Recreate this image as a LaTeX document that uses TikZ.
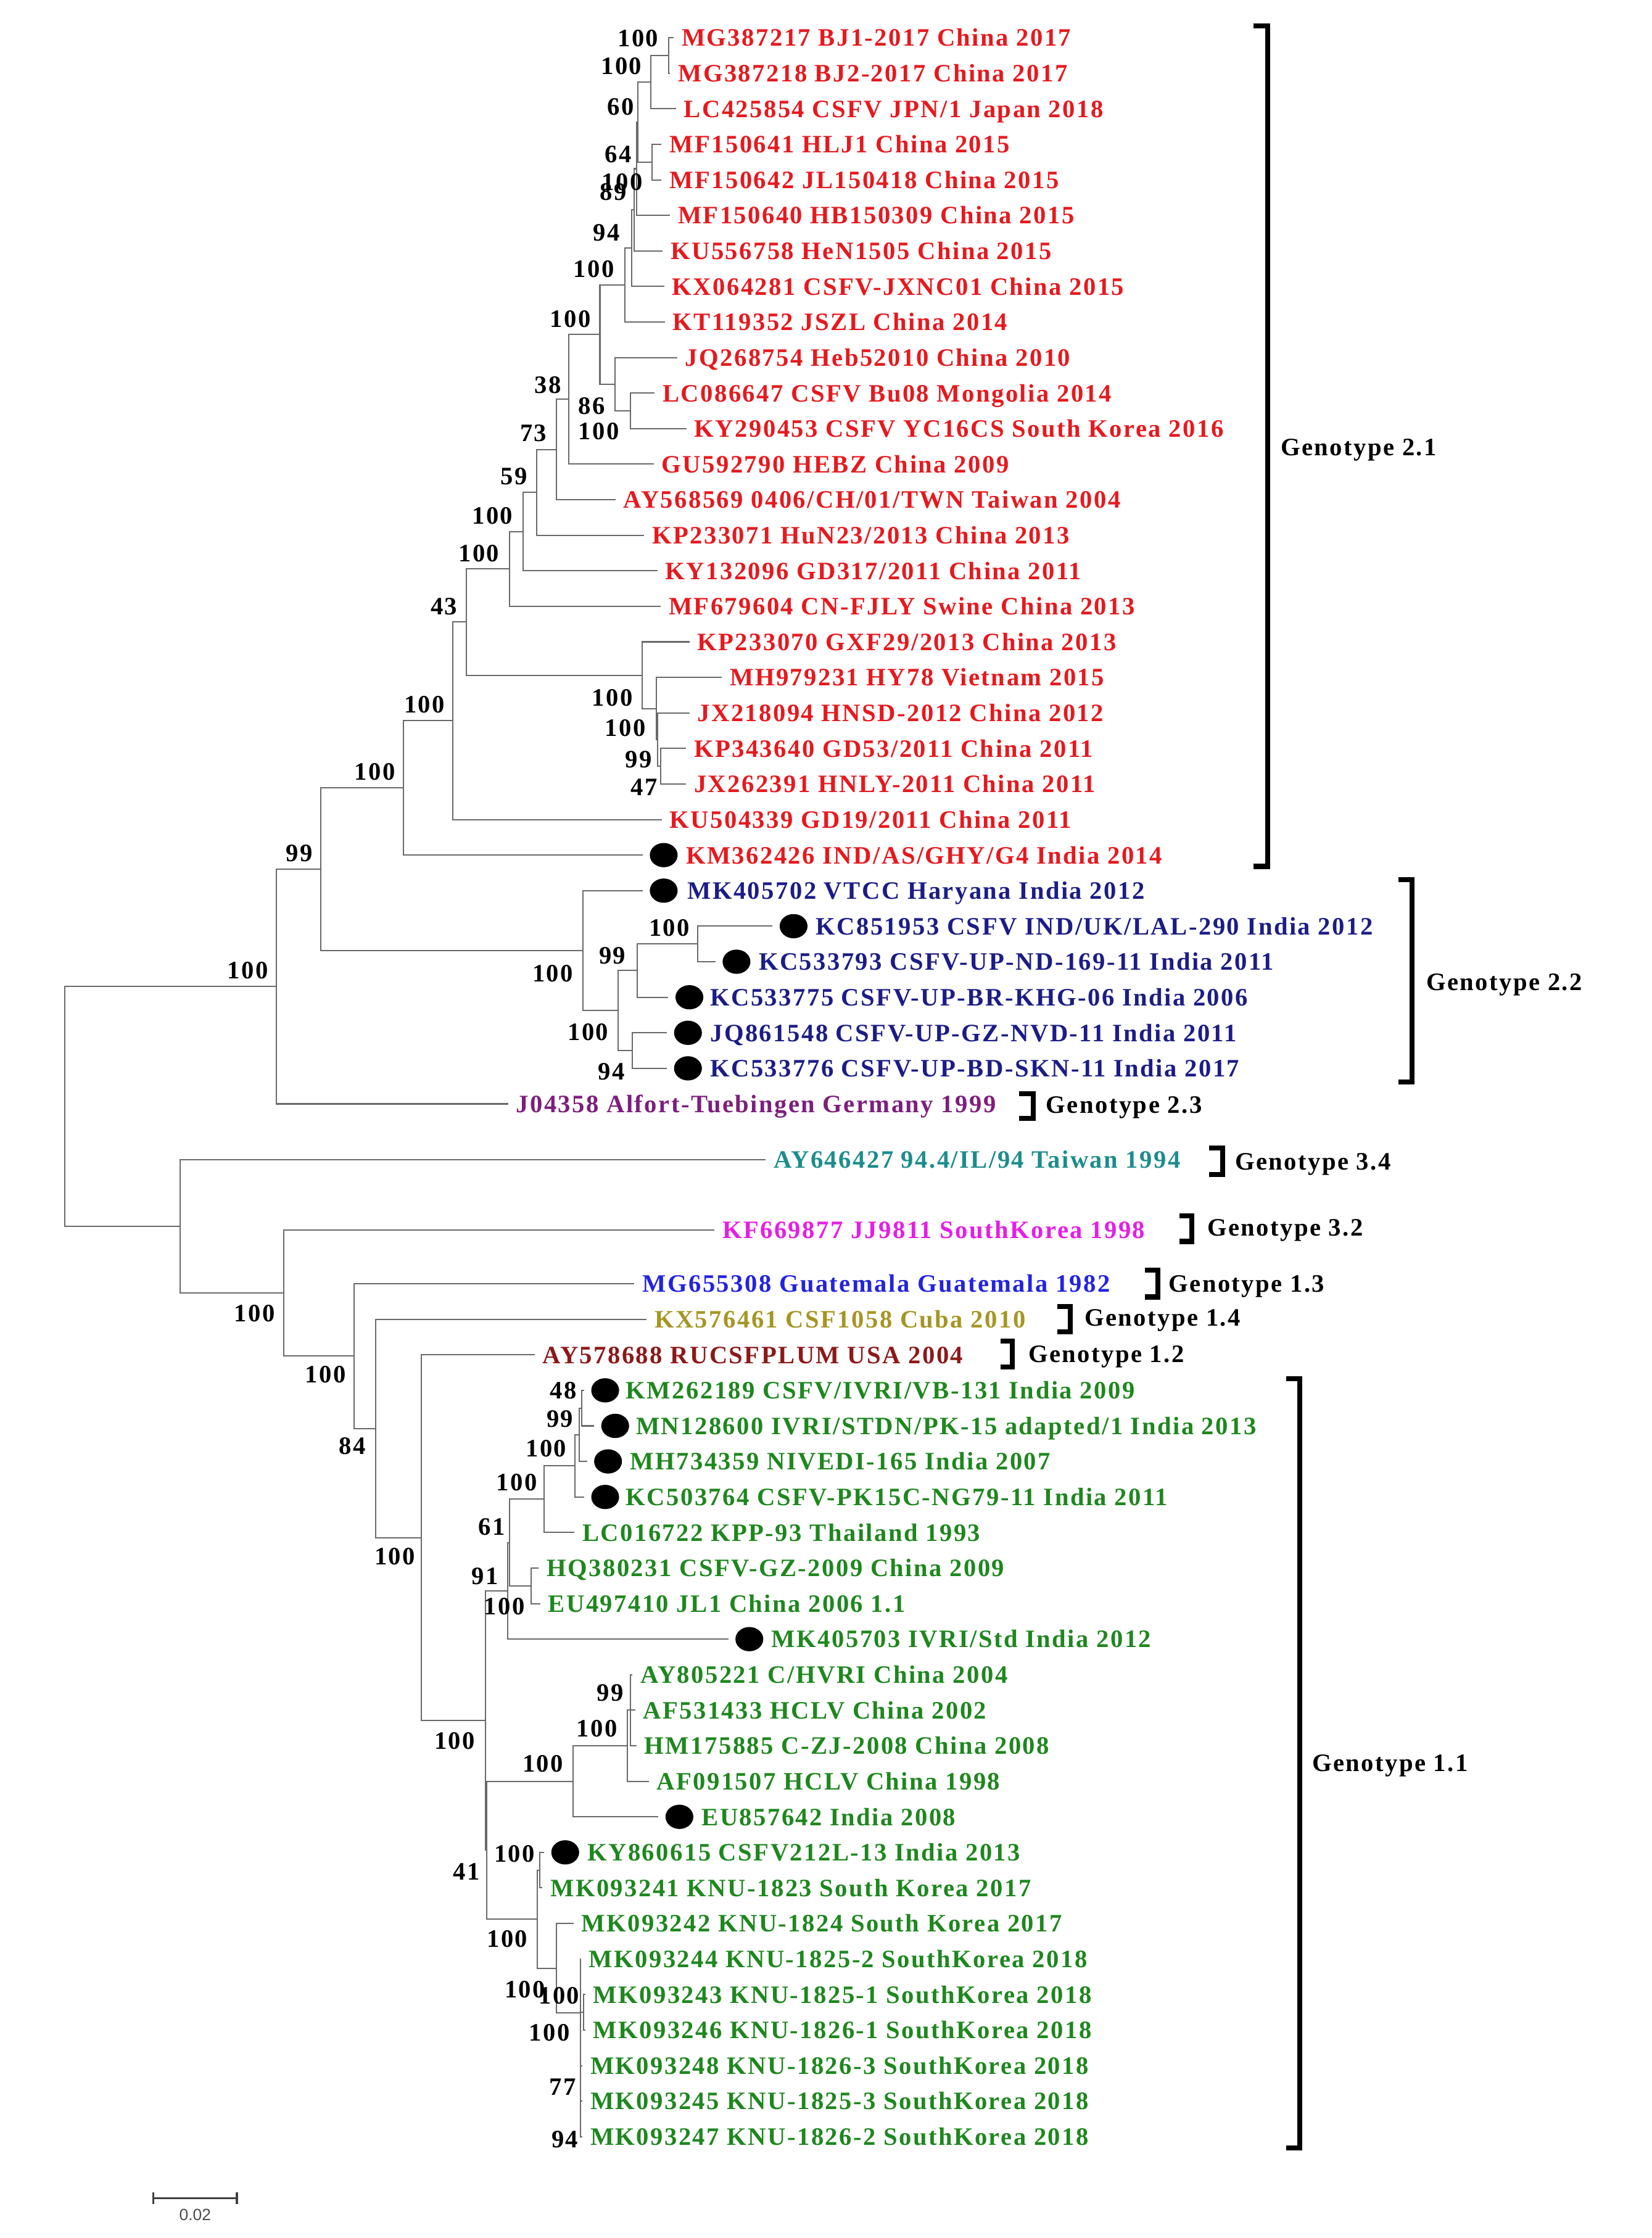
\documentclass[tikz,border=0pt]{standalone}
\usepackage{fontspec}
\setmainfont{Liberation Serif}
\newfontfamily\lblfont{Liberation Serif}[LetterSpace=6]
\newfontfamily\barfont{Liberation Sans}
\usetikzlibrary{shapes.geometric}

\definecolor{treegray}{RGB}{105,105,105}
\definecolor{ctwoone}{RGB}{230,25,30}
\definecolor{ctwotwo}{RGB}{28,28,135}
\definecolor{ctwothree}{RGB}{125,30,125}
\definecolor{cthreefour}{RGB}{30,140,140}
\definecolor{cthreetwo}{RGB}{230,30,230}
\definecolor{conethree}{RGB}{35,35,225}
\definecolor{conefour}{RGB}{165,150,35}
\definecolor{conetwo}{RGB}{140,25,25}
\definecolor{coneone}{RGB}{30,135,30}

\begin{document}
\begin{tikzpicture}[x=0.02cm, y=-0.02cm,
	br/.style={draw=treegray, line width=0.5pt, to path={|- (\tikztotarget)}},
	leaf/.style={anchor=west, inner xsep=3pt, inner ysep=0pt, text height=6.8pt, text depth=0pt, font=\lblfont\bfseries\fontsize{10}{12}\selectfont},
	bs/.style={inner sep=0pt, font=\lblfont\bfseries\fontsize{10}{12}\selectfont},
	gt/.style={anchor=west, inner sep=0pt, text height=6.8pt, text depth=0pt, font=\lblfont\bfseries\fontsize{10}{12}\selectfont},
	dot/.style={ellipse, fill=black, inner sep=0pt, minimum width=0.39cm, minimum height=0.34cm, outer sep=0.1cm},
	brk/.style={line width=2pt, black}]
	\useasboundingbox (0,0) rectangle (1157,1568);

	% genotype 2.1
	\node[leaf, text=ctwoone] (1)  at (472,26.4)   {MG387217 BJ1-2017 China 2017};
	\node[leaf, text=ctwoone] (2)  at (469.5,51.3) {MG387218 BJ2-2017 China 2017};
	\node[leaf, text=ctwoone] (3)  at (473.6,76.2) {LC425854 CSFV JPN/1 Japan 2018};
	\node[leaf, text=ctwoone] (4)  at (463.5,101.1) {MF150641 HLJ1 China 2015};
	\node[leaf, text=ctwoone] (5)  at (463.5,126)  {MF150642 JL150418 China 2015};
	\node[leaf, text=ctwoone] (6)  at (469.4,150.9) {MF150640 HB150309 China 2015};
	\node[leaf, text=ctwoone] (7)  at (464.3,175.8) {KU556758 HeN1505 China 2015};
	\node[leaf, text=ctwoone] (8)  at (465.4,200.7) {KX064281 CSFV-JXNC01 China 2015};
	\node[leaf, text=ctwoone] (9)  at (465.8,225.6) {KT119352 JSZL China 2014};
	\node[leaf, text=ctwoone] (10) at (474.5,250.5) {JQ268754 Heb52010 China 2010};
	\node[leaf, text=ctwoone] (11) at (458.7,275.4) {LC086647 CSFV Bu08 Mongolia 2014};
	\node[leaf, text=ctwoone] (12) at (481,300.3)   {KY290453 CSFV YC16CS South Korea 2016};
	\node[leaf, text=ctwoone] (13) at (458,325.2)   {GU592790 HEBZ China 2009};
	\node[leaf, text=ctwoone] (14) at (431.3,350.1) {AY568569 0406/CH/01/TWN Taiwan 2004};
	\node[leaf, text=ctwoone] (15) at (451.3,375)   {KP233071 HuN23/2013 China 2013};
	\node[leaf, text=ctwoone] (16) at (460.6,399.9) {KY132096 GD317/2011 China 2011};
	\node[leaf, text=ctwoone] (17) at (462.9,424.8) {MF679604 CN-FJLY Swine China 2013};
	\node[leaf, text=ctwoone] (18) at (483,449.7)   {KP233070 GXF29/2013 China 2013};
	\node[leaf, text=ctwoone] (19) at (505.8,474.6) {MH979231 HY78 Vietnam 2015};
	\node[leaf, text=ctwoone] (20) at (483,499.5)   {JX218094 HNSD-2012 China 2012};
	\node[leaf, text=ctwoone] (21) at (480.6,524.4) {KP343640 GD53/2011 China 2011};
	\node[leaf, text=ctwoone] (22) at (480.6,549.3) {JX262391 HNLY-2011 China 2011};
	\node[leaf, text=ctwoone] (23) at (463.6,574.2) {KU504339 GD19/2011 China 2011};
	\node[dot] (d24) at (465,599.1) {};
	\node[leaf, text=ctwoone] (24) at (475,599.1) {KM362426 IND/AS/GHY/G4 India 2014};

	% genotype 2.2
	\node[dot] (d25) at (465,624) {};
	\node[leaf, text=ctwotwo] (25) at (476,624) {MK405702 VTCC Haryana India 2012};
	\node[dot] (d26) at (556,648.9) {};
	\node[leaf, text=ctwotwo] (26) at (566,648.9) {KC851953 CSFV IND/UK/LAL-290 India 2012};
	\node[dot] (d27) at (516,673.8) {};
	\node[leaf, text=ctwotwo] (27) at (526,673.8) {KC533793 CSFV-UP-ND-169-11 India 2011};
	\node[dot] (d28) at (483,698.7) {};
	\node[leaf, text=ctwotwo] (28) at (492,698.7) {KC533775 CSFV-UP-BR-KHG-06 India 2006};
	\node[dot] (d29) at (482,723.6) {};
	\node[leaf, text=ctwotwo] (29) at (492,723.6) {JQ861548 CSFV-UP-GZ-NVD-11 India 2011};
	\node[dot] (d30) at (482,748.5) {};
	\node[leaf, text=ctwotwo] (30) at (492,748.5) {KC533776 CSFV-UP-BD-SKN-11 India 2017};

	% single genotypes
	\node[leaf, text=ctwothree]  (31) at (356,773.4)   {J04358 Alfort-Tuebingen Germany 1999};
	\node[leaf, text=cthreefour] (32) at (536.5,812.5) {AY646427 94.4/IL/94 Taiwan 1994};
	\node[leaf, text=cthreetwo]  (33) at (500.5,861.6) {KF669877 JJ9811 SouthKorea 1998};
	\node[leaf, text=conethree]  (34) at (444.5,899.4) {MG655308 Guatemala Guatemala 1982};
	\node[leaf, text=conefour]   (35) at (453,924.3)   {KX576461 CSF1058 Cuba 2010};
	\node[leaf, text=conetwo]    (36) at (374.7,949.2) {AY578688 RUCSFPLUM USA 2004};

	% genotype 1.1
	\node[dot] (d37) at (424,974.1) {};
	\node[leaf, text=coneone] (37) at (433,974.1) {KM262189 CSFV/IVRI/VB-131 India 2009};
	\node[dot] (d38) at (431,999) {};
	\node[leaf, text=coneone] (38) at (440,999) {MN128600 IVRI/STDN/PK-15 adapted/1 India 2013};
	\node[dot] (d39) at (426,1023.9) {};
	\node[leaf, text=coneone] (39) at (436,1023.9) {MH734359 NIVEDI-165 India 2007};
	\node[dot] (d40) at (424,1048.8) {};
	\node[leaf, text=coneone] (40) at (433,1048.8) {KC503764 CSFV-PK15C-NG79-11 India 2011};
	\node[leaf, text=coneone] (41) at (402.5,1073.7) {LC016722 KPP-93 Thailand 1993};
	\node[leaf, text=coneone] (42) at (377.5,1098.6) {HQ380231 CSFV-GZ-2009 China 2009};
	\node[leaf, text=coneone] (43) at (378.5,1123.5) {EU497410 JL1 China 2006 1.1};
	\node[dot] (d44) at (525,1148.4) {};
	\node[leaf, text=coneone] (44) at (535,1148.4) {MK405703 IVRI/Std India 2012};
	\node[leaf, text=coneone] (45) at (443,1173.3)   {AY805221 C/HVRI China 2004};
	\node[leaf, text=coneone] (46) at (445,1198.2)   {AF531433 HCLV China 2002};
	\node[leaf, text=coneone] (47) at (446,1223.1)   {HM175885 C-ZJ-2008 China 2008};
	\node[leaf, text=coneone] (48) at (454.5,1248)   {AF091507 HCLV China 1998};
	\node[dot] (d49) at (476,1272.9) {};
	\node[leaf, text=coneone] (49) at (486,1272.9) {EU857642 India 2008};
	\node[dot] (d50) at (396,1297.8) {};
	\node[leaf, text=coneone] (50) at (406,1297.8) {KY860615 CSFV212L-13 India 2013};
	\node[leaf, text=coneone] (51) at (380,1322.7)   {MK093241 KNU-1823 South Korea 2017};
	\node[leaf, text=coneone] (52) at (401.8,1347.6) {MK093242 KNU-1824 South Korea 2017};
	\node[leaf, text=coneone] (53) at (407,1372.5)   {MK093244 KNU-1825-2 SouthKorea 2018};
	\node[leaf, text=coneone] (54) at (410,1397.4)   {MK093243 KNU-1825-1 SouthKorea 2018};
	\node[leaf, text=coneone] (55) at (410,1422.3)   {MK093246 KNU-1826-1 SouthKorea 2018};
	\node[leaf, text=coneone] (56) at (408,1447.2)   {MK093248 KNU-1826-3 SouthKorea 2018};
	\node[leaf, text=coneone] (57) at (408,1472.1)   {MK093245 KNU-1825-3 SouthKorea 2018};
	\node[leaf, text=coneone] (58) at (408,1497)     {MK093247 KNU-1826-2 SouthKorea 2018};

	% internal nodes
	\coordinate (nroot) at (45.2,775.2);
	\coordinate (n2)   at (193.7,691.2);
	\coordinate (nA)   at (224.9,609);
	\coordinate (nB)   at (282.5,552);
	\coordinate (nC)   at (317.4,505);
	\coordinate (nD)   at (326.8,435.8);
	\coordinate (nE)   at (356.9,398.6);
	\coordinate (nJ)   at (366.5,372.45);
	\coordinate (nK)   at (375.9,345);
	\coordinate (nL)   at (390,314.95);
	\coordinate (nM)   at (398.6,279.8);
	\coordinate (nN)   at (420.3,234.45);
	\coordinate (nNA)  at (437.8,199.7);
	\coordinate (nNB)  at (442.7,173.85);
	\coordinate (nNC)  at (444.4,147);
	\coordinate (nND2) at (446,118.2);
	\coordinate (nND1) at (446.9,85.5);
	\coordinate (nNG)  at (455.8,57.5);
	\coordinate (nR)   at (468.6,38.85);
	\coordinate (nNF)  at (456.9,113.55);
	\coordinate (nP)   at (431,269.2);
	\coordinate (nQ)   at (441.9,287.85);
	\coordinate (nF)   at (450.1,473.05);
	\coordinate (nG)   at (459.7,496.4);
	\coordinate (nH)   at (460.9,518.2);
	\coordinate (nI)   at (462.9,536.85);
	\coordinate (nGA)  at (408.4,666);
	\coordinate (nGB)  at (433.2,708);
	\coordinate (nGC)  at (446.4,680);
	\coordinate (nGE)  at (489,661.35);
	\coordinate (nGD)  at (443.1,736.05);
	\coordinate (nS)   at (126.2,859.2);
	\coordinate (nT)   at (198.6,905.85);
	\coordinate (nU)   at (248,950.1);
	\coordinate (nV)   at (263,1000.8);
	\coordinate (nW)   at (295,1077.3);
	\coordinate (nX)   at (340.2,1205.4);
	\coordinate (nZ)   at (355.7,1114.55);
	\coordinate (nAA)  at (357,1080.7);
	\coordinate (nAB)  at (381.3,1050.35);
	\coordinate (nAD)  at (402.9,1027);
	\coordinate (nAE)  at (406,1005.2);
	\coordinate (nAF)  at (407.5,986.55);
	\coordinate (nAC)  at (372.1,1111.05);
	\coordinate (nX2)  at (340.8,1296.3);
	\coordinate (nHC)  at (401.4,1248);
	\coordinate (nHD)  at (439.6,1223.1);
	\coordinate (nHE)  at (441.5,1198.2);
	\coordinate (nBB)  at (376.6,1344.6);
	\coordinate (nBC)  at (378,1310.25);
	\coordinate (nBD)  at (390,1379);
	\coordinate (nBE)  at (406.8,1410.3);
	\coordinate (nBF)  at (409,1409.85);

	% branches
	\path (nroot) edge[br] (n2) edge[br] (nS);
	\path (n2)   edge[br] (nA) edge[br] (31.west);
	\path (nA)   edge[br] (nB) edge[br] (nGA);
	\path (nB)   edge[br] (nC) edge[br] (d24.west);
	\path (nC)   edge[br] (nD) edge[br] (23.west);
	\path (nD)   edge[br] (nE) edge[br] (nF);
	\path (nE)   edge[br] (nJ) edge[br] (17.west);
	\path (nJ)   edge[br] (nK) edge[br] (16.west);
	\path (nK)   edge[br] (nL) edge[br] (15.west);
	\path (nL)   edge[br] (nM) edge[br] (14.west);
	\path (nM)   edge[br] (nN) edge[br] (13.west);
	\path (nN)   edge[br] (nNA) edge[br] (nP);
	\path (nNA)  edge[br] (nNB) edge[br] (9.west);
	\path (nNB)  edge[br] (nNC) edge[br] (8.west);
	\path (nNC)  edge[br] (nND2) edge[br] (7.west);
	\path (nND2) edge[br] (nND1) edge[br] (6.west);
	\path (nND1) edge[br] (nNG) edge[br] (nNF);
	\path (nNG)  edge[br] (nR) edge[br] (3.west);
	\path (nR)   edge[br] (1.west) edge[br] (2.west);
	\path (nNF)  edge[br] (4.west) edge[br] (5.west);
	\path (nP)   edge[br] (10.west) edge[br] (nQ);
	\path (nQ)   edge[br] (11.west) edge[br] (12.west);
	\path (nF)   edge[br] (18.west) edge[br] (nG);
	\path (nG)   edge[br] (19.west) edge[br] (nH);
	\path (nH)   edge[br] (20.west) edge[br] (nI);
	\path (nI)   edge[br] (21.west) edge[br] (22.west);
	\path (nGA)  edge[br] (d25.west) edge[br] (nGB);
	\path (nGB)  edge[br] (nGC) edge[br] (nGD);
	\path (nGC)  edge[br] (nGE) edge[br] (d28.west);
	\path (nGE)  edge[br] (d26.west) edge[br] (d27.west);
	\path (nGD)  edge[br] (d29.west) edge[br] (d30.west);
	\path (nS)   edge[br] (32.west) edge[br] (nT);
	\path (nT)   edge[br] (33.west) edge[br] (nU);
	\path (nU)   edge[br] (34.west) edge[br] (nV);
	\path (nV)   edge[br] (35.west) edge[br] (nW);
	\path (nW)   edge[br] (36.west) edge[br] (nX);
	\path (nX)   edge[br] (nZ) edge[br] (nX2);
	\path (nZ)   edge[br] (nAA) edge[br] (d44.west);
	\path (nAA)  edge[br] (nAB) edge[br] (nAC);
	\path (nAB)  edge[br] (nAD) edge[br] (41.west);
	\path (nAD)  edge[br] (nAE) edge[br] (d40.west);
	\path (nAE)  edge[br] (nAF) edge[br] (d39.west);
	\path (nAF)  edge[br] (d37.west) edge[br] (d38.west);
	\path (nAC)  edge[br] (42.west) edge[br] (43.west);
	\path (nX2)  edge[br] (nHC) edge[br] (nBB);
	\path (nHC)  edge[br] (nHD) edge[br] (d49.west);
	\path (nHD)  edge[br] (nHE) edge[br] (48.west);
	\path (nHE)  edge[br] (45.west) edge[br] (46.west) edge[br] (47.west);
	\path (nBB)  edge[br] (nBC) edge[br] (nBD);
	\path (nBC)  edge[br] (d50.west) edge[br] (51.west);
	\path (nBD)  edge[br] (52.west) edge[br] (nBE);
	\path (nBE)  edge[br] (53.west) edge[br] (nBF) edge[br] (56.west) edge[br] (57.west) edge[br] (58.west);
	\path (nBF)  edge[br] (54.west) edge[br] (55.west);

	% bootstrap values
	\node[bs] (b1)  at (447,26.9)    {100};
	\node[bs] (b2)  at (435.4,46.3)  {100};
	\node[bs] (b3)  at (435,75)      {60};
	\node[bs] (b4)  at (433,108)     {64};
	\node[bs] (b5)  at (436,127.4)   {100};
	\node[bs] (b6)  at (429.6,134.5) {89};
	\node[bs] (b7)  at (425,163)     {94};
	\node[bs] (b8)  at (416,188.5)   {100};
	\node[bs] (b9)  at (399.6,223.7) {100};
	\node[bs] (b10) at (383.8,269.7) {38};
	\node[bs] (b11) at (414.4,284.4) {86};
	\node[bs] (b12) at (419.5,302.1) {100};
	\node[bs] (b13) at (373.7,303.7) {73};
	\node[bs] (b14) at (360,333.7)   {59};
	\node[bs] (b15) at (345,361.5)   {100};
	\node[bs] (b16) at (335.5,387.8) {100};
	\node[bs] (b17) at (311,424.8)   {43};
	\node[bs] (b18) at (429,489)     {100};
	\node[bs] (b19) at (438.2,510.2) {100};
	\node[bs] (b20) at (447.5,532.3) {99};
	\node[bs] (b21) at (451.3,551.6) {47};
	\node[bs] (b22) at (297.4,493.8) {100};
	\node[bs] (b23) at (262.7,540.7) {100};
	\node[bs] (b24) at (209.6,598)   {99};
	\node[bs] (b25) at (173.5,680)   {100};
	\node[bs] (b26) at (469,650.2)   {100};
	\node[bs] (b27) at (429,669.7)   {99};
	\node[bs] (b28) at (387.3,681.9) {100};
	\node[bs] (b29) at (412,723)     {100};
	\node[bs] (b30) at (428.3,751)   {94};
	\node[bs] (b31) at (178.3,920)   {100};
	\node[bs] (b32) at (228,963)     {100};
	\node[bs] (b33) at (247,1013)    {84};
	\node[bs] (b34) at (276.6,1090.6) {100};
	\node[bs] (b35) at (318.5,1219.7) {100};
	\node[bs] (b36) at (326.7,1311.4) {41};
	\node[bs] (b37) at (394.7,974.1) {48};
	\node[bs] (b38) at (392.3,994)   {99};
	\node[bs] (b39) at (382.6,1015)  {100};
	\node[bs] (b40) at (362,1038.6)  {100};
	\node[bs] (b41) at (344.5,1069.6) {61};
	\node[bs] (b42) at (339.8,1104.3) {91};
	\node[bs] (b43) at (353.3,1125.4) {100};
	\node[bs] (b44) at (427.5,1186.1) {99};
	\node[bs] (b45) at (418.3,1211)  {100};
	\node[bs] (b46) at (380.3,1235.7) {100};
	\node[bs] (b47) at (360.5,1299)  {100};
	\node[bs] (b48) at (355.4,1358.6) {100};
	\node[bs] (b49) at (367.8,1394)  {100};
	\node[bs] (b50) at (391.7,1398)  {100};
	\node[bs] (b51) at (384.9,1424.2) {100};
	\node[bs] (b52) at (394.2,1462)  {77};
	\node[bs] (b53) at (395.7,1499)  {94};

	% genotype brackets
	\draw[brk] (878,18) -- (888.3,18) -- (888.3,607) -- (878,607);
	\node[gt] (g21) at (897,313) {Genotype 2.1};
	\draw[brk] (979.8,616.4) -- (989.4,616.4) -- (989.4,758.2) -- (979.8,758.2);
	\node[gt] (g22) at (999,687.7) {Genotype 2.2};
	\draw[brk] (713.9,766.2) -- (723.8,766.2) -- (723.8,783.4) -- (713.9,783.4);
	\node[gt] (g23) at (732.6,774) {Genotype 2.3};
	\draw[brk] (847,804.3) -- (856.6,804.3) -- (856.6,823) -- (847,823);
	\node[gt] (g34) at (864.9,813.7) {Genotype 3.4};
	\draw[brk] (826.3,851.8) -- (835,851.8) -- (835,869.8) -- (826.3,869.8);
	\node[gt] (g32) at (845.5,859.8) {Genotype 3.2};
	\draw[brk] (802.3,890) -- (811.1,890) -- (811.1,908.7) -- (802.3,908.7);
	\node[gt] (g13) at (818.5,899.4) {Genotype 1.3};
	\draw[brk] (740.9,915.2) -- (749.7,915.2) -- (749.7,933.2) -- (740.9,933.2);
	\node[gt] (g14) at (759.6,923.1) {Genotype 1.4};
	\draw[brk] (700.9,939.7) -- (709.2,939.7) -- (709.2,957.7) -- (700.9,957.7);
	\node[gt] (g12) at (720.2,948.3) {Genotype 1.2};
	\draw[brk] (901,966) -- (910.5,966) -- (910.5,1505) -- (901,1505);
	\node[gt] (g11) at (919,1235) {Genotype 1.1};

	% scale bar
	\coordinate (sb1) at (107.3,1540.2);
	\coordinate (sb2) at (166,1540.2);
	\draw[line width=0.8pt, black!75] (sb1) -- (sb2);
	\draw[line width=0.8pt, black!75] ([yshift=0.08cm]sb1) -- ([yshift=-0.08cm]sb1);
	\draw[line width=0.8pt, black!75] ([yshift=0.08cm]sb2) -- ([yshift=-0.08cm]sb2);
	\node[inner sep=0pt, text=black!70, font=\barfont\fontsize{6.5}{8}\selectfont] (sbl) at (136.7,1551.8) {0.02};
\end{tikzpicture}
\end{document}
